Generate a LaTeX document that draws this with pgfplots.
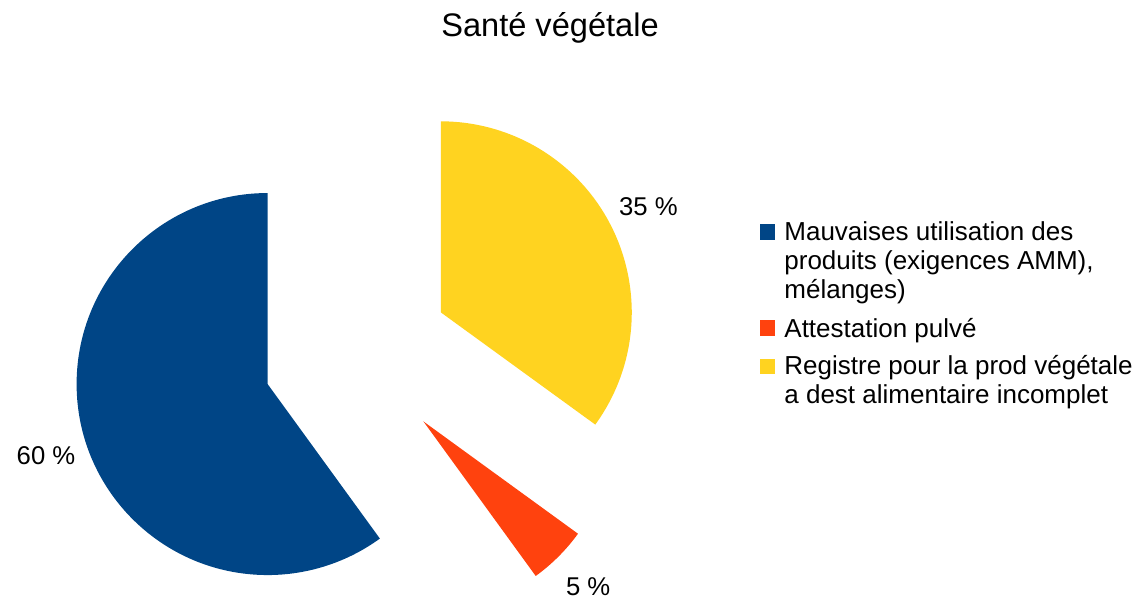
\documentclass[border=0pt]{standalone}
\usepackage{pgfplots}
\pgfplotsset{compat=1.18}
\usepackage{pgfplotstable}
\usepackage{fontspec}
\setmainfont{Liberation Sans}
\definecolor{cblue}{HTML}{004586}
\definecolor{cred}{HTML}{FF420E}
\definecolor{cyel}{HTML}{FFD320}

\pgfplotstableread{
label value
Mauvaises 60
Attestation 5
Registre 35
}\piedata

\begin{document}
\begin{tikzpicture}
% read values
\pgfplotstablegetelem{0}{value}\of\piedata \let\vA\pgfplotsretval
\pgfplotstablegetelem{1}{value}\of\piedata \let\vB\pgfplotsretval
\pgfplotstablegetelem{2}{value}\of\piedata \let\vC\pgfplotsretval
% angles (start at 90 deg, counterclockwise)
\pgfmathsetmacro\sA{90}
\pgfmathsetmacro\eA{\sA+3.6*\vA}
\pgfmathsetmacro\sB{\eA}
\pgfmathsetmacro\eB{\sB+3.6*\vB}
\pgfmathsetmacro\sC{\eB}
\pgfmathsetmacro\eC{\sC+3.6*\vC}
\pgfmathsetmacro\mA{(\sA+\eA)/2}
\pgfmathsetmacro\mB{(\sB+\eB)/2}
\pgfmathsetmacro\mC{(\sC+\eC)/2}
% centre, explode offset (axis units)
\def\cx{357}\def\cy{237}\def\off{94}\def\lab{233}
\pgfmathsetmacro\xA{\cx+\off*cos(\mA)}\pgfmathsetmacro\yA{\cy+\off*sin(\mA)}
\pgfmathsetmacro\xB{\cx+\off*cos(\mB)}\pgfmathsetmacro\yB{\cy+\off*sin(\mB)}
\pgfmathsetmacro\xC{\cx+\off*cos(\mC)}\pgfmathsetmacro\yC{\cy+\off*sin(\mC)}
\pgfmathsetmacro\lxA{\xA+\lab*cos(\mA)}\pgfmathsetmacro\lyA{\yA+\lab*sin(\mA)}
\pgfmathsetmacro\lxB{\xB+\lab*cos(\mB)}\pgfmathsetmacro\lyB{\yB+\lab*sin(\mB)}
\pgfmathsetmacro\lxC{\xC+\lab*cos(\mC)}\pgfmathsetmacro\lyC{\yC+\lab*sin(\mC)}
\def\R{95.5pt}
\begin{axis}[
  width=567pt, height=296pt, scale only axis,
  xmin=0, xmax=1134, ymin=0, ymax=592,
  hide axis, clip=false,
]
\path (axis cs:0,0) rectangle (axis cs:1134,592);
\fill[cblue] (axis cs:\xA,\yA) -- ++(\sA:\R) arc[start angle=\sA, end angle=\eA, radius=\R] -- cycle;
\fill[cred] (axis cs:\xB,\yB) -- ++(\sB:\R) arc[start angle=\sB, end angle=\eB, radius=\R] -- cycle;
\fill[cyel] (axis cs:\xC,\yC) -- ++(\sC:\R) arc[start angle=\sC, end angle=\eC, radius=\R] -- cycle;
\node[font=\fontsize{12.85}{14.75}\selectfont] at (axis cs:\lxA,\lyA) {\vA~\%};
\node[font=\fontsize{12.85}{14.75}\selectfont] at (axis cs:\lxB,\lyB) {\vB~\%};
\node[font=\fontsize{12.85}{14.75}\selectfont] at (axis cs:\lxC,\lyC) {\vC~\%};
% title
\node[font=\fontsize{16.3}{19}\selectfont, anchor=base] at (axis cs:550,555) {Santé végétale};
% legend
\fill[cblue] (axis cs:760,352) rectangle (axis cs:775,368);
\fill[cred] (axis cs:760,256) rectangle (axis cs:775,272);
\fill[cyel] (axis cs:760,218) rectangle (axis cs:775,233);
\begin{scope}[every node/.style={font=\fontsize{13}{15}\selectfont, anchor=base west, inner sep=0pt}]
\node at (axis cs:784,351) {Mauvaises utilisation des};
\node at (axis cs:784,322) {produits (exigences AMM),};
\node at (axis cs:784,293) {mélanges)};
\node at (axis cs:784,255) {Attestation pulvé};
\node at (axis cs:784,218) {Registre pour la prod végétale};
\node at (axis cs:784,189) {a dest alimentaire incomplet};
\end{scope}
\end{axis}
\end{tikzpicture}
\end{document}
